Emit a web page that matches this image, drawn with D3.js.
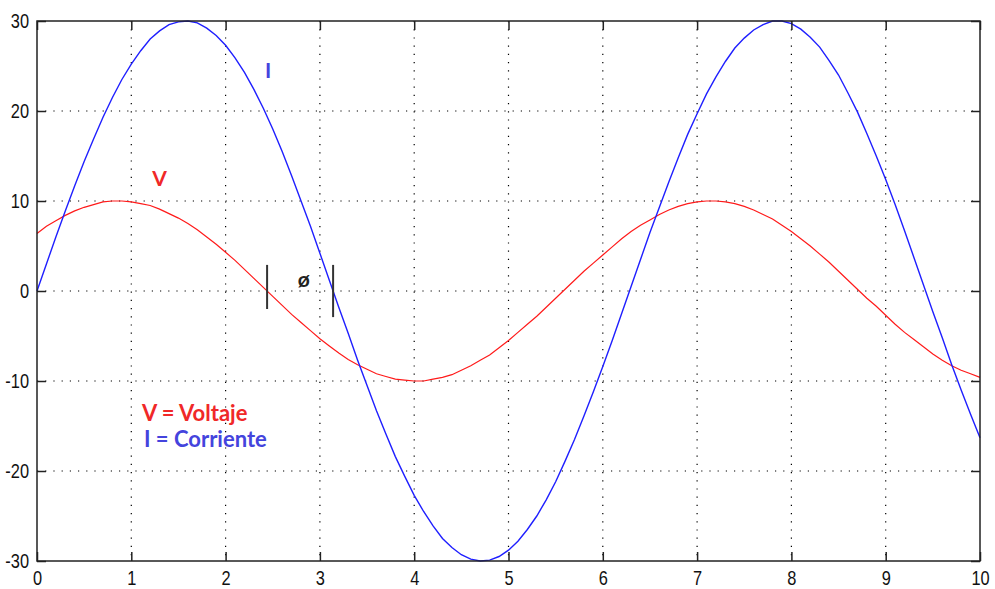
<!DOCTYPE html>
<html>
<head>
<meta charset="utf-8">
<script src="https://cdn.jsdelivr.net/npm/d3@7"></script>
<style>
  body { margin: 0; background: #fff; }
  svg { display: block; }
</style>
</head>
<body>
<div id="chart"></div>
<script>
// sample positions, 0 .. 10 step 0.1
const xs = d3.range(0, 101).map(i => i / 10);

// I (corriente)
const corriente = [
  0, 3.0, 6.0, 8.9, 11.7, 14.4, 16.9, 19.3, 21.5, 23.5,
  25.2, 26.7, 28.0, 28.9, 29.6, 29.9, 30.0, 29.8, 29.2, 28.4,
  27.3, 25.9, 24.3, 22.4, 20.3, 18.0, 15.5, 12.8, 10.0, 7.2,
  4.2, 1.2, -1.8, -4.7, -7.7, -10.5, -13.3, -15.9, -18.4, -20.6,
  -22.7, -24.5, -26.1, -27.5, -28.5, -29.3, -29.8, -30.0, -29.9, -29.5,
  -28.8, -27.8, -26.5, -25.0, -23.2, -21.2, -18.9, -16.5, -13.9, -11.2,
  -8.4, -5.5, -2.5, 0.5, 3.5, 6.5, 9.3, 12.1, 14.8, 17.4,
  19.7, 21.9, 23.8, 25.5, 27.0, 28.1, 29.0, 29.6, 30.0, 30.0,
  29.7, 29.1, 28.2, 27.1, 25.6, 24.0, 22.0, 19.9, 17.5, 15.0,
  12.4, 9.6, 6.7, 3.7, 0.7, -2.3, -5.2, -8.2, -11.0, -13.7,
  -16.3
];

// V (voltaje)
const voltaje = [
  6.4, 7.2, 7.8, 8.4, 8.9, 9.3, 9.6, 9.9, 10.0, 10.0,
  9.9, 9.7, 9.5, 9.1, 8.6, 8.1, 7.5, 6.8, 6.0, 5.2,
  4.3, 3.4, 2.4, 1.4, 0.4, -0.6, -1.6, -2.6, -3.5, -4.4,
  -5.3, -6.1, -6.9, -7.6, -8.2, -8.7, -9.2, -9.5, -9.8, -9.9,
  -10.0, -10.0, -9.8, -9.6, -9.3, -8.8, -8.3, -7.7, -7.1, -6.3,
  -5.5, -4.6, -3.7, -2.8, -1.8, -0.8, 0.2, 1.2, 2.2, 3.1,
  4.0, 4.9, 5.8, 6.6, 7.3, 7.9, 8.5, 9.0, 9.4, 9.7,
  9.9, 10.0, 10.0, 9.9, 9.7, 9.4, 9.0, 8.5, 8.0, 7.3,
  6.6, 5.8, 5.0, 4.1, 3.2, 2.2, 1.2, 0.2, -0.8, -1.7,
  -2.7, -3.7, -4.6, -5.4, -6.2, -7.0, -7.7, -8.3, -8.8, -9.2,
  -9.6
];

const xTicks = [0, 1, 2, 3, 4, 5, 6, 7, 8, 9, 10];
const yTicks = [-30, -20, -10, 0, 10, 20, 30];

// phase marks (x position, from y, to y)
const phaseX = [2.44, 3.14];
const phaseLow = [-2.0, -2.9];
const phaseHigh = [2.9, 2.9];

let width = 995, height = 589;
let margin = { top: 21, right: 15, bottom: 28, left: 37 };

let svg = d3.select('#chart').append('svg')
  .attr('width', width)
  .attr('height', height);

let x = d3.scaleLinear().domain([0, 10]).range([margin.left, width - margin.right]);
let y = d3.scaleLinear().domain([-30, 30]).range([height - margin.bottom, margin.top]);

// grid
svg.append('g')
  .selectAll('line')
  .data(xTicks.slice(1, -1))
  .join('line')
  .attr('x1', d => x(d)).attr('x2', d => x(d))
  .attr('y1', y(30)).attr('y2', y(-30))
  .attr('stroke', '#000')
  .attr('stroke-width', 1.2)
  .attr('stroke-dasharray', '1.2,7');

svg.append('g')
  .selectAll('line')
  .data(yTicks.slice(1, -1))
  .join('line')
  .attr('x1', x(0)).attr('x2', x(10))
  .attr('y1', d => y(d)).attr('y2', d => y(d))
  .attr('stroke', '#000')
  .attr('stroke-width', 1.2)
  .attr('stroke-dasharray', '1.2,7');

// curves
let line = d3.line()
  .x((d, i) => x(xs[i]))
  .y(d => y(d));

svg.append('path')
  .datum(voltaje)
  .attr('fill', 'none')
  .attr('stroke', '#ff1a1a')
  .attr('stroke-width', 1.2)
  .attr('d', line);

svg.append('path')
  .datum(corriente)
  .attr('fill', 'none')
  .attr('stroke', '#1f1fff')
  .attr('stroke-width', 1.4)
  .attr('d', line);

// axes (MATLAB style, ticks inside)
let tickLen = 9;
let fmt = d => String(d);   // plain hyphen minus like the original
let axB = d3.axisBottom(x).tickValues(xTicks).tickSizeInner(-tickLen).tickSizeOuter(0).tickPadding(10).tickFormat(fmt);
let axT = d3.axisTop(x).tickValues(xTicks).tickSizeInner(-tickLen).tickSizeOuter(0).tickFormat('');
let axL = d3.axisLeft(y).tickValues(yTicks).tickSizeInner(-tickLen).tickSizeOuter(0).tickPadding(8).tickFormat(fmt);
let axR = d3.axisRight(y).tickValues(yTicks).tickSizeInner(-tickLen).tickSizeOuter(0).tickFormat('');

function styleAxis(g) {
  g.select('.domain').remove();
  g.selectAll('.tick line').attr('stroke', '#222').attr('stroke-width', 1.5);
  g.selectAll('.tick text')
    .attr('fill', '#111')
    .style('font-family', '"Liberation Sans", Arial, sans-serif')
    .style('font-size', '20px');
}

svg.append('g').attr('transform', `translate(0,${y(-30)})`).call(axB).call(styleAxis)
  .selectAll('.tick text').attr('dy', '0.71em');
svg.append('g').attr('transform', `translate(0,${y(30)})`).call(axT).call(styleAxis);
svg.append('g').attr('transform', `translate(${x(0)},0)`).call(axL).call(styleAxis);
svg.append('g').attr('transform', `translate(${x(10)},0)`).call(axR).call(styleAxis);

// narrow the digits like the original
let sx = 0.82;
svg.selectAll('.tick text').each(function() {
  let t = d3.select(this);
  t.attr('transform', `scale(${sx},1)`);
  if (t.attr('x') !== null) t.attr('x', +t.attr('x') / sx);
});

// frame
svg.append('rect')
  .attr('x', x(0)).attr('y', y(30))
  .attr('width', x(10) - x(0))
  .attr('height', y(-30) - y(30))
  .attr('fill', 'none')
  .attr('stroke', '#222')
  .attr('stroke-width', 1.5);

// phase marks
svg.append('g')
  .selectAll('line')
  .data(phaseX)
  .join('line')
  .attr('x1', d => x(d)).attr('x2', d => x(d))
  .attr('y1', (d, i) => y(phaseHigh[i]))
  .attr('y2', (d, i) => y(phaseLow[i]))
  .attr('stroke', '#333')
  .attr('stroke-width', 2);

// annotations
let labelFont = 'Lato, "Open Sans", sans-serif';
svg.append('text')
  .attr('x', x(2.83)).attr('y', y(0.4))
  .attr('text-anchor', 'middle')
  .attr('fill', '#222')
  .style('font-family', labelFont)
  .style('font-size', '21px')
  .style('font-weight', 'bold')
  .text('ø');

svg.append('text')
  .attr('x', x(2.45)).attr('y', y(23.7))
  .attr('text-anchor', 'middle')
  .attr('fill', '#4444dd')
  .style('font-family', labelFont)
  .style('font-size', '21px')
  .style('font-weight', 'bold')
  .text('I');

svg.append('text')
  .attr('x', x(1.3)).attr('y', y(11.7))
  .attr('text-anchor', 'middle')
  .attr('fill', '#f02828')
  .style('font-family', labelFont)
  .style('font-size', '21px')
  .style('font-weight', 'bold')
  .text('V');

svg.append('text')
  .attr('x', 142).attr('y', y(-14.4))
  .attr('fill', '#f02828')
  .style('font-family', labelFont)
  .style('font-size', '22px')
  .style('font-weight', 'bold')
  .text('V = Voltaje');

svg.append('text')
  .attr('x', 144).attr('y', y(-17.3))
  .attr('fill', '#4444dd')
  .style('font-family', labelFont)
  .style('font-size', '22px')
  .style('font-weight', 'bold')
  .text('I = Corriente');
</script>
</body>
</html>
